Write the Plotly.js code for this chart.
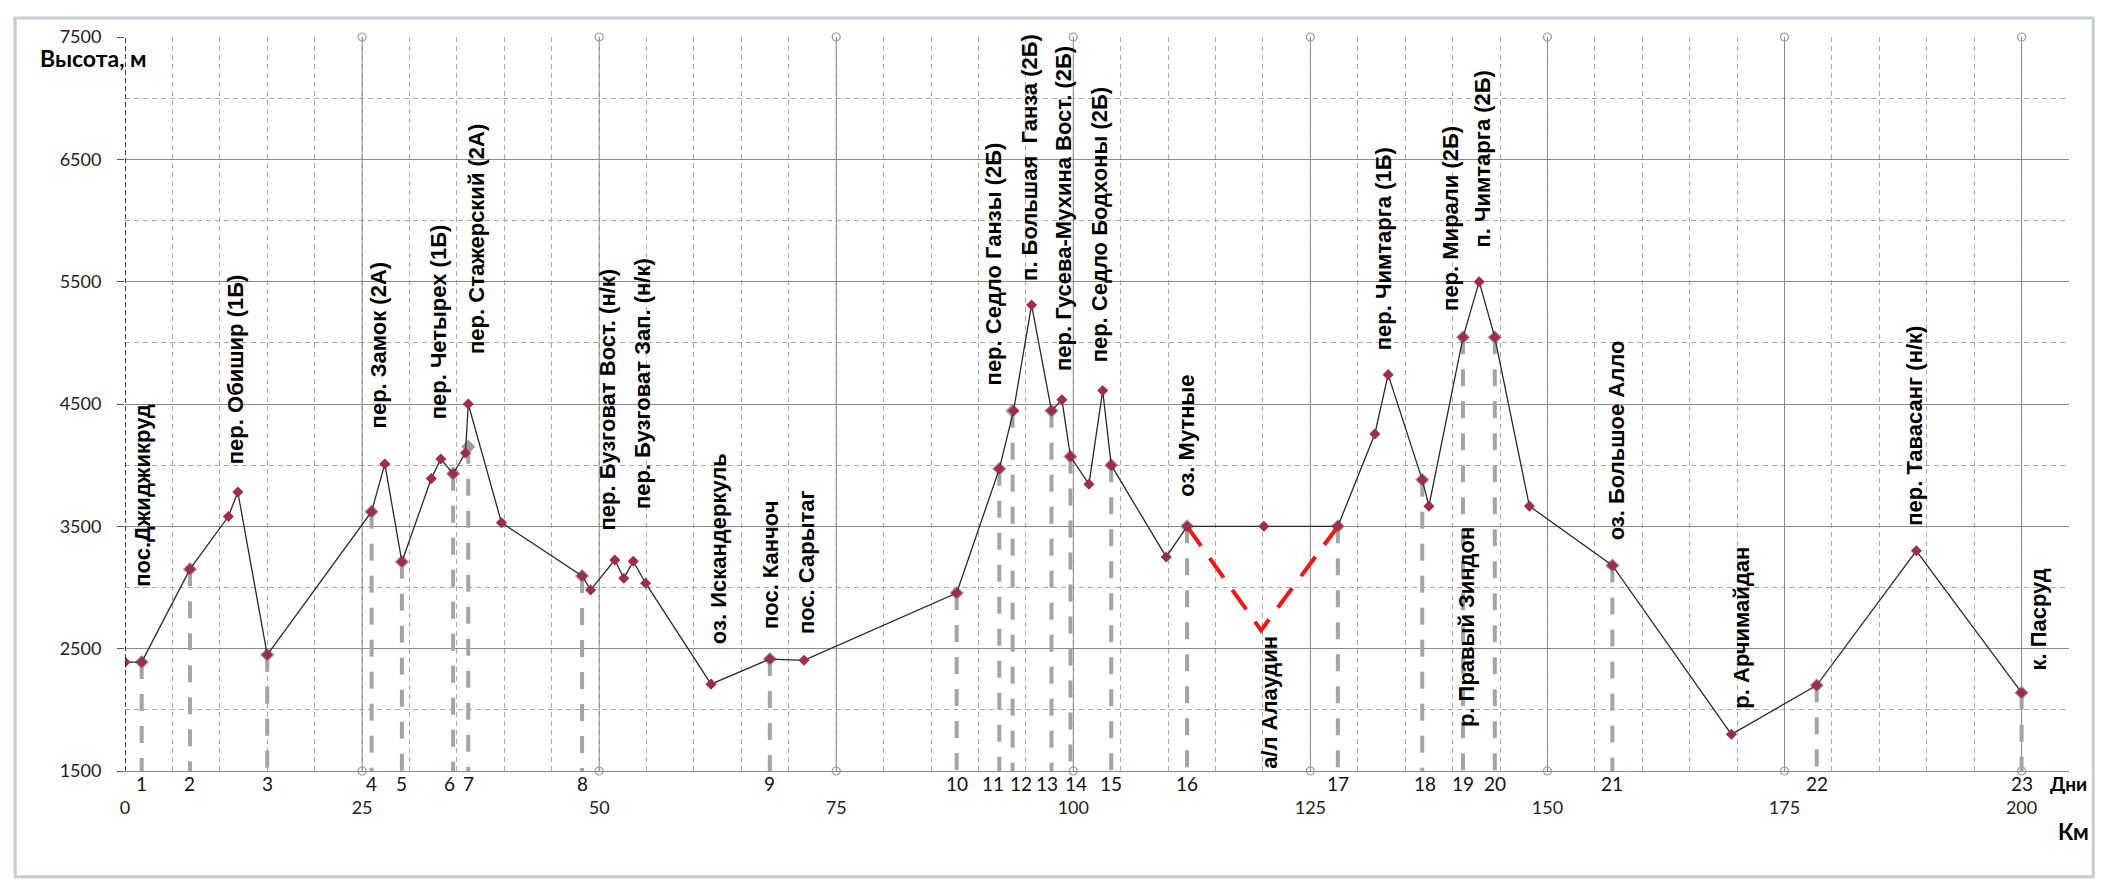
<!DOCTYPE html>
<html><head><meta charset="utf-8">
<script src="https://cdn.plot.ly/plotly-3.0.1.min.js"></script>
<style>html,body{margin:0;padding:0;background:#fff}</style>
</head><body><div id="chart" style="width:2107px;height:882px"></div>
<script>
// Route profile: distance (km) and altitude (m)
const routeKm  = [0, 1.76, 6.85, 10.9, 11.9, 15.0, 26.0, 27.4, 29.2, 32.3, 33.3, 34.6, 35.9, 36.2, 39.7,
                  48.2, 49.1, 51.65, 52.6, 53.6, 54.9, 61.8, 68.0, 71.6, 87.7, 92.2, 93.7, 95.6, 97.7, 98.8,
                  99.7, 101.65, 103.1, 104.0, 109.8, 112.0, 120.1, 127.9, 131.8, 133.2, 136.8, 137.5, 141.1,
                  142.8, 144.45, 148.1, 156.85, 169.4, 178.4, 188.9, 200.0];
const routeAlt = [2390, 2390, 3150, 3580, 3780, 2450, 3620, 4010, 3210, 3890, 4050, 3930, 4100, 4500, 3530,
                  3095, 2980, 3225, 3075, 3215, 3035, 2210, 2415, 2405, 2955, 3970, 4445, 5310, 4445, 4535,
                  4070, 3845, 4610, 4000, 3250, 3500, 3500, 3500, 4255, 4740, 3880, 3665, 5045,
                  5500, 5045, 3665, 3180, 1800, 2200, 3300, 2140];
// Radial trip to a/l Alaudin (red dashed)
const detourKm  = [112.0, 119.8, 127.9];
const detourAlt = [3500, 2650, 3500];
// Day ends (camps)
const dayNumbers = ['1','2','3','4','5','6','7','8','9','10','11','12','13','14','15','16','17','18','19','20','21','22','23'];
const dayKm  = [1.76, 6.85, 15.0, 26.0, 29.2, 34.6, 36.2, 48.2, 68.0, 87.7, 92.2, 93.6, 97.7, 99.7, 104.0,
                112.0, 127.9, 136.8, 141.1, 144.45, 156.85, 178.4, 200.0];
const dayAlt = [2390, 3150, 2450, 3620, 3210, 3930, 4150, 3095, 2415, 2955, 3970, 4445, 4445, 4070, 4000,
                3500, 3500, 3880, 5045, 5045, 3180, 2200, 2140];
// Axis ticks
const kmTicks  = [0, 25, 50, 75, 100, 125, 150, 175, 200];
const altTicks = [1500, 2500, 3500, 4500, 5500, 6500, 7500];
// Place names and where their labels sit (km of label centre, altitude of label start)
const placeNames = ['пос.Джиджикруд', 'пер. Обишир (1Б)', 'пер. Замок (2А)', 'пер. Четырех (1Б)', 'пер. Стажерский (2А)',
  'пер. Бузговат Вост. (н/к)', 'пер. Бузговат Зап. (н/к)', 'оз. Искандеркуль', 'пос. Канчоч', 'пос. Сарытаг',
  'пер. Седло Ганзы (2Б)', 'п. Большая  Ганза (2Б)', 'пер. Гусева-Мухина Вост. (2Б)', 'пер. Седло Бодхоны (2Б)',
  'оз. Мутные', 'а/л Алаудин', 'пер. Чимтарга (1Б)', 'пер. Мирали (2Б)', 'п. Чимтарга (2Б)', 'р. Правый Зиндон',
  'оз. Большое Алло', 'р. Арчимайдан', 'пер. Тавасанг (н/к)', 'к. Пасруд'];
const placeKm  = [1.76, 11.6, 26.7, 33.1, 37.0, 50.9, 54.6, 62.6, 68.0, 71.8, 91.6, 95.3, 98.9, 102.8,
                  111.9, 120.7, 132.8, 139.7, 143.2, 141.4, 157.3, 170.5, 188.7, 201.8];
const placeAlt = [3000, 4000, 4290, 4370, 4900, 3455, 3635, 2530, 2655, 2610, 4645, 5500, 4765, 4835,
                  3735, 1510, 4930, 5255, 5775, 1850, 3375, 2000, 3500, 2310];

const LBL = 'Lato, "Liberation Sans", sans-serif';
const PLACEFONT = {family: '"Liberation Sans", Arial, sans-serif', size: 22, color: '#000', weight: 'bold'};

// Vertical 25-km lines with circle ends
const vx = [], vy = [];
kmTicks.slice(1).forEach(k => { vx.push(k, k, null); vy.push(altTicks[0], altTicks[altTicks.length-1], null); });
// Day drop lines
const dx = [], dy = [];
dayKm.forEach((k, i) => { dx.push(k, k, null); dy.push(dayAlt[i], altTicks[0], null); });

const traces = [
  {x: vx, y: vy, mode: 'lines+markers', line: {color: '#8a8a8a', width: 1},
   marker: {symbol: 'circle-open', size: 8, color: '#9a9a9a', line: {width: 1.2}},
   cliponaxis: false, hoverinfo: 'skip', showlegend: false},
  {x: dx, y: dy, mode: 'lines', line: {color: '#a4a4a4', width: 4, dash: '17px,15px'},
   hoverinfo: 'skip', showlegend: false},
  {x: dayKm, y: dayAlt, mode: 'markers', marker: {symbol: 'diamond', size: 11, color: '#9c9c9c'},
   showlegend: false},
  {x: detourKm, y: detourAlt, mode: 'lines', line: {color: '#ff1010', width: 4, dash: '24px,15px'},
   showlegend: false},
  {x: routeKm, y: routeAlt, mode: 'lines+markers', line: {color: '#2a2a2a', width: 1.3},
   marker: {symbol: 'diamond', size: 8.5, color: '#a32a4c'}, showlegend: false}
];

const annotations = [];
placeNames.forEach((t, i) => {
  annotations.push({x: placeKm[i], y: placeAlt[i], xref: 'x', yref: 'y', text: t, textangle: -90,
    showarrow: false, xanchor: 'center', yanchor: 'bottom', font: PLACEFONT, borderpad: 0});
});
const dayShift = {6: -4, 11: -6, 12: 8, 13: -4, 14: 6, 18: 3};
dayNumbers.forEach((d, i) => {
  annotations.push({x: dayKm[i], y: -0.017, xref: 'x', yref: 'paper', text: d, showarrow: false,
    xanchor: 'center', yanchor: 'middle', xshift: dayShift[d] || 0,
    font: {family: LBL, size: 19, color: '#111'}});
});
annotations.push({x: -0.045, y: 0.972, xref: 'paper', yref: 'paper', text: 'Высота, м', showarrow: false,
  xanchor: 'left', yanchor: 'middle', font: {family: LBL, size: 23, color: '#000', weight: 'bold'}});
annotations.push({x: 0.989, y: -0.017, xref: 'paper', yref: 'paper', text: 'Дни', showarrow: false,
  xanchor: 'left', yanchor: 'middle', font: {family: LBL, size: 19, color: '#000', weight: 'bold'}});
annotations.push({x: 0.9935, y: -0.082, xref: 'paper', yref: 'paper', text: 'Км', showarrow: false,
  xanchor: 'left', yanchor: 'middle', font: {family: LBL, size: 22, color: '#000', weight: 'bold'}});

const layout = {
  width: 2107, height: 882,
  margin: {l: 125, r: 38, t: 37, b: 111},
  paper_bgcolor: '#fff', plot_bgcolor: '#fff',
  xaxis: {range: [0, 205], tickmode: 'array', tickvals: kmTicks, ticktext: kmTicks.map(String),
    showgrid: false, zeroline: false, showline: true, linecolor: '#8a8a8a', linewidth: 1,
    ticks: '', ticklabelstandoff: 20, tickangle: 0,
    tickfont: {family: LBL, size: 18, color: '#222'},
    minor: {tick0: 0, dtick: 5, showgrid: true, gridcolor: '#a8a8a8', griddash: '5px,4px', gridwidth: 1}},
  yaxis: {range: [1500, 7500], tickmode: 'array', tickvals: altTicks, ticktext: altTicks.map(String),
    showgrid: true, gridcolor: '#8a8a8a', gridwidth: 1, zeroline: false, showline: false,
    ticks: 'outside', ticklen: 7, tickcolor: '#555', ticklabelstandoff: 12,
    tickfont: {family: LBL, size: 18, color: '#222'},
    minor: {tick0: 1500, dtick: 500, showgrid: true, gridcolor: '#a8a8a8', griddash: '5px,4px', gridwidth: 1}},
  shapes: [
    {type: 'line', xref: 'x', yref: 'y', x0: 0, x1: 0, y0: 1500, y1: 7500,
     line: {color: '#000', width: 1.5, dash: '5px,3px'}, layer: 'above'},
    {type: 'rect', xref: 'paper', yref: 'paper', x0: -0.0565, x1: 1.0125, y0: -0.144, y1: 1.026,
     line: {color: '#c3ced3', width: 3}, layer: 'below'}
  ],
  annotations: annotations,
  showlegend: false
};

Plotly.newPlot('chart', traces, layout, {displayModeBar: false, staticPlot: true});
</script>
</body></html>
